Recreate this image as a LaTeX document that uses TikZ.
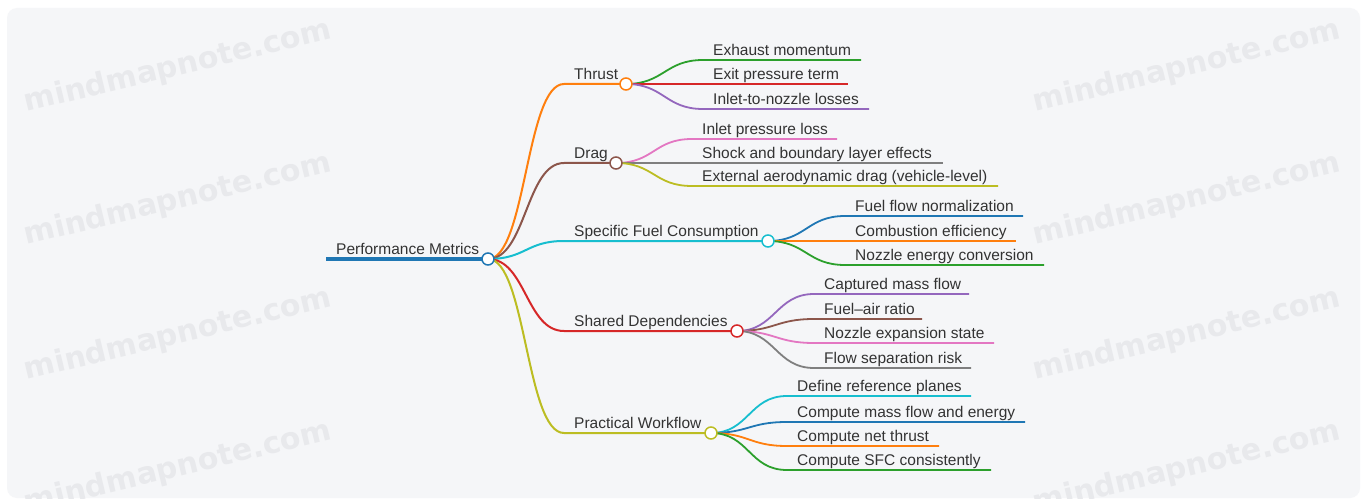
\documentclass[tikz,border=0pt]{standalone}
\usepackage{fontspec}
\setmainfont{Liberation Sans}
\newfontfamily\wmfont{DejaVu Sans}
\usetikzlibrary{calc}
\definecolor{cBlue}{HTML}{1F77B4}
\definecolor{cOrange}{HTML}{FF7F0E}
\definecolor{cGreen}{HTML}{2CA02C}
\definecolor{cRed}{HTML}{D62728}
\definecolor{cPurple}{HTML}{9467BD}
\definecolor{cBrown}{HTML}{8C564B}
\definecolor{cPink}{HTML}{E377C2}
\definecolor{cGray}{HTML}{7F7F7F}
\definecolor{cOlive}{HTML}{BCBD22}
\definecolor{cCyan}{HTML}{17BECF}
\definecolor{txt}{HTML}{333333}
\definecolor{bgc}{HTML}{F5F6F8}
\definecolor{wmc}{HTML}{E8E9EC}
% #1 name, #2 parent, #3 y, #4 start x, #5 end x, #6 colour, #7 text
\newcommand\mmleaf[7]{%
  \coordinate (#1-s) at (#4,#3);
  \coordinate (#1) at (#5,#3);
  \draw[#6, leafline] (#2) .. controls +(38,0) and +(-38,0) .. (#1-s) -- (#1);
  \node[lbl] (#1-t) at ($(#1-s)+(10,-4.5)$) {#7};
}
\newcommand\mmbranch[6]{%
  \coordinate (#1-s) at (564,#3);
  \coordinate (#1) at (#4,#3);
  \draw[#5, branchline] (#2) .. controls +(38,0) and +(-38,0) .. (#1-s) -- (#1);
  \node[lbl] (#1-t) at ($(#1-s)+(10,-4.5)$) {#6};
}
\begin{document}
\begin{tikzpicture}[x=1pt,y=-1pt,
  lbl/.style={anchor=base west, inner sep=0pt, text=txt, font=\fontsize{15.5}{18}\selectfont},
  dot/.style={circle, draw=#1, fill=white, line width=1.5pt, minimum size=12pt, inner sep=0pt},
  leafline/.style={line width=1.8pt},
  branchline/.style={line width=2pt},
  wm/.style={text=wmc, font=\wmfont\bfseries\fontsize{30}{30}\selectfont, rotate=13.5, inner sep=0pt}]
\useasboundingbox (0,0) rectangle (1361,500);
\fill[white] (0,0) rectangle (1361,500);
\fill[bgc, rounded corners=10pt] (7,8) rectangle (1360,498);
\begin{scope}
\clip[rounded corners=10pt] (7,8) rectangle (1360,498);
\foreach \wy [count=\i] in {67,200,335,468}{
  \node[wm] (wmL\i) at (178,\wy) {mindmapnote.com};
  \node[wm] (wmR\i) at (1187,\wy) {mindmapnote.com};
}
\end{scope}

% root
\coordinate (root-s) at (326,259);
\coordinate (root) at (488,259);
\node[lbl] (root-t) at (336,254) {Performance Metrics};

% level 1
\mmbranch{thrust}{root}{84}{626}{cOrange}{Thrust}
\mmbranch{drag}{root}{163}{616}{cBrown}{Drag}
\mmbranch{sfc}{root}{241}{768}{cCyan}{Specific Fuel Consumption}
\mmbranch{shared}{root}{331}{737}{cRed}{Shared Dependencies}
\mmbranch{pw}{root}{433}{711}{cOlive}{Practical Workflow}

% leaves
\mmleaf{t1}{thrust}{60}{703}{861}{cGreen}{Exhaust momentum}
\mmleaf{t2}{thrust}{84}{703}{848}{cRed}{Exit pressure term}
\mmleaf{t3}{thrust}{109}{703}{869}{cPurple}{Inlet-to-nozzle losses}

\mmleaf{d1}{drag}{139}{692}{837}{cPink}{Inlet pressure loss}
\mmleaf{d2}{drag}{163}{692}{943}{cGray}{Shock and boundary layer effects}
\mmleaf{d3}{drag}{186}{692}{998}{cOlive}{External aerodynamic drag (vehicle-level)}

\mmleaf{s1}{sfc}{216}{845}{1023}{cBlue}{Fuel flow normalization}
\mmleaf{s2}{sfc}{241}{845}{1016}{cOrange}{Combustion efficiency}
\mmleaf{s3}{sfc}{265}{845}{1044}{cGreen}{Nozzle energy conversion}

\mmleaf{h1}{shared}{294}{814}{969}{cPurple}{Captured mass flow}
\mmleaf{h2}{shared}{319}{814}{922}{cBrown}{Fuel–air ratio}
\mmleaf{h3}{shared}{343}{814}{994}{cPink}{Nozzle expansion state}
\mmleaf{h4}{shared}{368}{814}{971}{cGray}{Flow separation risk}

\mmleaf{p1}{pw}{396}{787}{971}{cCyan}{Define reference planes}
\mmleaf{p2}{pw}{422}{787}{1025}{cBlue}{Compute mass flow and energy}
\mmleaf{p3}{pw}{446}{787}{939}{cOrange}{Compute net thrust}
\mmleaf{p4}{pw}{470}{787}{991}{cGreen}{Compute SFC consistently}

\draw[cBlue, line width=4pt] (root-s) -- (root);

% circles
\node[dot=cBlue] (root-c) at (root) {};
\node[dot=cOrange] (thrust-c) at (thrust) {};
\node[dot=cBrown] (drag-c) at (drag) {};
\node[dot=cCyan] (sfc-c) at (sfc) {};
\node[dot=cRed] (shared-c) at (shared) {};
\node[dot=cOlive] (pw-c) at (pw) {};
\end{tikzpicture}
\end{document}
